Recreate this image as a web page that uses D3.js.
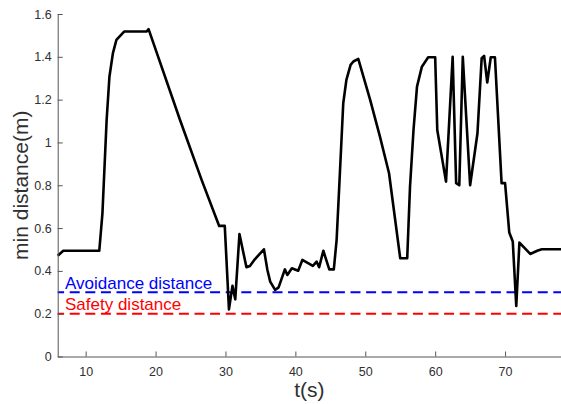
<!DOCTYPE html>
<html>
<head>
<meta charset="utf-8">
<script src="https://cdn.jsdelivr.net/npm/d3@7"></script>
<style>
  html, body { margin: 0; padding: 0; background: #fff; }
  svg { display: block; font-family: "Liberation Sans", Arial, Helvetica, sans-serif; }
</style>
</head>
<body>
<svg id="chart" width="561" height="404"></svg>
<script>
// Time stamps (s) and the minimum distance to obstacles (m)
const timeS = [
  6.0, 6.8, 11.95, 12.4, 13.0, 13.4, 13.9, 14.4, 15.5, 18.7, 19.0,
  23.5, 26.6, 29.1, 29.9, 30.5, 31.0, 31.4, 32.0, 33.0, 33.5, 34.2,
  35.5, 36.0, 36.4, 37.1, 37.6, 38.5, 38.85, 39.5, 40.4, 41.0, 42.5,
  43.05, 43.4, 44.0, 44.85, 45.5, 45.9, 46.3, 46.85, 47.3, 47.9, 48.3,
  49.0, 50.7, 52.1, 53.4, 55.0, 56.0, 56.4, 56.9, 57.4, 58.1, 59.0,
  60.0, 60.3, 61.55, 62.5, 63.0, 63.45, 63.95, 65.0, 66.05, 66.65, 67.0,
  67.45, 67.95, 68.55, 69.5, 70.0, 70.6, 71.1, 71.6, 72.05, 73.6, 74.6,
  75.25, 78.0
];
const minDist = [
  0.471, 0.494, 0.494, 0.669, 1.105, 1.307, 1.417, 1.479, 1.518, 1.518, 1.529,
  1.105, 0.824, 0.610, 0.610, 0.220, 0.330, 0.267, 0.572, 0.417, 0.423, 0.454,
  0.501, 0.404, 0.350, 0.311, 0.323, 0.407, 0.381, 0.412, 0.401, 0.451, 0.423,
  0.443, 0.417, 0.494, 0.407, 0.407, 0.544, 0.810, 1.183, 1.292, 1.362, 1.378,
  1.390, 1.199, 1.027, 0.856, 0.459, 0.459, 0.793, 1.058, 1.261, 1.354, 1.398,
  1.398, 1.058, 0.817, 1.400, 0.810, 0.800, 1.400, 0.800, 1.043, 1.393, 1.404,
  1.280, 1.398, 1.398, 0.810, 0.810, 0.579, 0.537, 0.236, 0.532, 0.479, 0.494,
  0.501, 0.501
];

// Threshold lines
const thresholdNames = ["Avoidance distance", "Safety distance"];
const thresholdValues = [0.3, 0.2];
const thresholdColors = ["#0000ff", "#ff0000"];

// Axis ticks
const xTicks = [10, 20, 30, 40, 50, 60, 70];
const yTicks = [0, 0.2, 0.4, 0.6, 0.8, 1.0, 1.2, 1.4, 1.6];
const yTickLabels = ["0", "0.2", "0.4", "0.6", "0.8", "1", "1.2", "1.4", "1.6"];
const xDomain = [6, 78];
const yDomain = [0, 1.6];

(function draw() {
  const svg = d3.select("#chart");
  const plotLeft = 57.7, plotRight = 561, plotTop = 14, plotBottom = 356.5;

  const x = d3.scaleLinear().domain(xDomain).range([plotLeft, plotRight]);
  const y = d3.scaleLinear().domain(yDomain).range([plotBottom, plotTop]);

  const axisColor = "#555";
  const textColor = "#303030";

  // Threshold dashed lines
  thresholdValues.forEach((v, i) => {
    svg.append("line")
      .attr("x1", x(xDomain[0])).attr("x2", x(xDomain[1]))
      .attr("y1", y(v)).attr("y2", y(v))
      .attr("stroke", thresholdColors[i])
      .attr("stroke-width", 2)
      .attr("stroke-dasharray", "10,5.6")
      .attr("stroke-dashoffset", 3.6);
  });

  // Distance curve
  const pts = timeS.map((t, i) => [t, minDist[i]]);
  svg.append("path")
    .datum(pts)
    .attr("fill", "none")
    .attr("stroke", "#000")
    .attr("stroke-width", 2.6)
    .attr("stroke-linejoin", "round")
    .attr("d", d3.line().x(d => x(d[0])).y(d => y(d[1])));

  // Axes (ticks pointing inward)
  const xAxis = svg.append("g")
    .attr("transform", `translate(0,${plotBottom})`)
    .call(d3.axisBottom(x).tickValues(xTicks).tickSizeInner(-5).tickSizeOuter(0).tickPadding(10.6));
  const yAxis = svg.append("g")
    .attr("transform", `translate(${plotLeft},0)`)
    .call(d3.axisLeft(y).tickValues(yTicks).tickFormat((d, i) => yTickLabels[i]).tickSizeInner(-5).tickSizeOuter(0).tickPadding(6));

  [xAxis, yAxis].forEach(g => {
    g.select(".domain").attr("stroke", axisColor).attr("stroke-width", 1);
    g.selectAll(".tick line").attr("stroke", axisColor).attr("stroke-width", 1);
    g.selectAll(".tick text")
      .attr("fill", textColor)
      .style("font-size", "12.5px")
      .style("font-family", "'Liberation Sans', Arial, sans-serif");
  });

  // Threshold labels
  thresholdNames.forEach((name, i) => {
    svg.append("text")
      .attr("x", 65)
      .attr("y", y(thresholdValues[i]) - 3.5)
      .attr("fill", thresholdColors[i])
      .style("font-size", "17px")
      .text(name);
  });

  // Axis titles
  svg.append("text")
    .attr("x", (plotLeft + plotRight) / 2)
    .attr("y", 397)
    .attr("text-anchor", "middle")
    .attr("fill", textColor)
    .style("font-size", "21px")
    .text("t(s)");

  svg.append("text")
    .attr("transform", `translate(28,${(plotTop + plotBottom) / 2}) rotate(-90)`)
    .attr("text-anchor", "middle")
    .attr("fill", textColor)
    .style("font-size", "21px")
    .text("min distance(m)");
})();
</script>
</body>
</html>
